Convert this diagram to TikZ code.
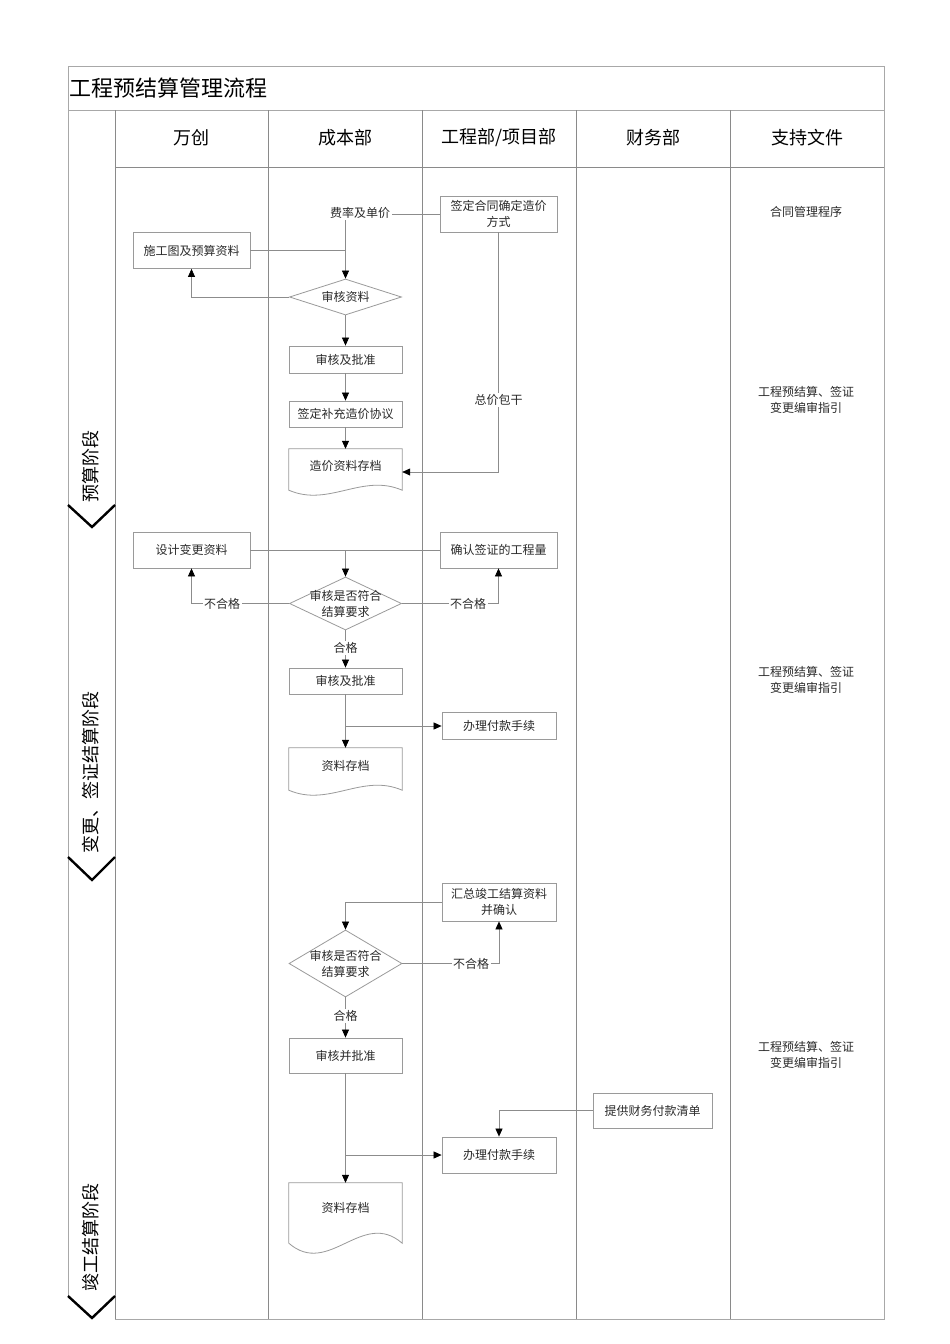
\documentclass[tikz,border=0pt]{standalone}
\usepackage{fontspec}
\setmainfont{Noto Sans CJK SC}
\usetikzlibrary{arrows.meta,shapes.geometric,calc}
\definecolor{lncol}{HTML}{8C8C8C}
\definecolor{boxcol}{HTML}{9A9A9A}
\definecolor{colcol}{HTML}{8A8A8A}
\definecolor{framecol}{HTML}{A8A8A8}
\definecolor{txtcol}{HTML}{2A2A2A}
\newcommand{\ntext}{\fontsize{12pt}{16pt}\selectfont}
\newcommand{\htext}{\fontsize{18pt}{22pt}\selectfont}
\newcommand{\ttext}{\fontsize{22pt}{26pt}\selectfont}
\newcommand{\ptext}{\fontsize{18pt}{22pt}\selectfont}
\newcommand{\stext}{\fontsize{12pt}{16pt}\selectfont}
\tikzset{
 colline/.style={draw=colcol, line width=0.8pt},
 outerline/.style={draw=framecol, line width=1pt},
 ln/.style={draw=lncol, line width=0.7pt},
 arr/.style={ln, -{Triangle[length=8pt,width=7pt,color=black]}},
 box/.style={rectangle, draw=boxcol, line width=0.8pt, minimum width=113pt, minimum height=27pt, inner sep=0pt, align=center, font=\ntext, text=txtcol},
 dia/.style={diamond, draw=boxcol, line width=0.8pt, inner sep=0pt, minimum width=112pt},
 dtext/.style={align=center, font=\ntext, text=txtcol, inner sep=0pt},
 doc/.style={rectangle, minimum width=113pt, inner sep=0pt, font=\ntext, text=txtcol, text height=9pt},
 docline/.style={draw=boxcol, line width=0.8pt},
 lbl/.style={font=\ntext, text=txtcol, inner sep=1.5pt, fill=white},
 hdr/.style={font=\htext, text=black},
 phase/.style={font=\ptext, text=black, rotate=90},
 chev/.style={draw=black, line width=2.4pt, line join=miter},
 sup/.style={font=\stext, text=txtcol, align=center},
}
\begin{document}
\begin{tikzpicture}[x=1pt,y=-1pt]
\useasboundingbox (0,0) rectangle (950,1344);
\fill[white] (0,0) rectangle (950,1344);
% frame and grid
\draw[outerline] (68,1296) -- (68,66) -- (884,66) -- (884,1319) -- (115,1319);
\draw[outerline] (68,110) -- (884,110);
\draw[colline] (115,167) -- (884,167);
\foreach \x in {115,268,422,576,730} \draw[colline] (\x,110) -- (\x,1319);
% title and headers
\node[font=\ttext, anchor=west, inner sep=0pt] (title) at (69,88) {工程预结算管理流程};
\node[hdr] (h1) at (191.5,138) {万创};
\node[hdr] (h2) at (345,138) {成本部};
\node[hdr] (h3) at (499,138) {工程部/项目部};
\node[hdr] (h4) at (653,138) {财务部};
\node[hdr] (h5) at (807,138) {支持文件};
% phases
\node[phase] (p1) at (91,466) {预算阶段};
\node[phase] (p2) at (91,772) {变更、签证结算阶段};
\node[phase] (p3) at (91,1237) {竣工结算阶段};
\draw[chev] (68,505) -- (92,527) -- (115,505);
\draw[chev] (68,857) -- (92,880) -- (115,857);
\draw[chev] (68,1296) -- (92,1318) -- (115,1296);
% support documents
\node[sup] (s1) at (806,212) {合同管理程序};
\node[sup] (s2) at (806,400) {工程预结算、签证\\变更编审指引};
\node[sup] (s3) at (806,680) {工程预结算、签证\\变更编审指引};
\node[sup] (s4) at (806,1055) {工程预结算、签证\\变更编审指引};
% ---------- section 1
\node[box, minimum width=117pt, minimum height=36pt] (sg) at (191.5,250.5) {施工图及预算资料};
\node[box, minimum width=117pt, minimum height=36pt] (ht) at (498.5,214) {签定合同确定造价\\方式};
\node[lbl, fill=none] (fee) at (360,213) {费率及单价};
\node[dia, minimum height=36pt] (dia1) at (345.5,297) {};
\node[dtext] (dia1t) at (dia1) {审核资料};
\node[box] (sh1) at (345.5,359.5) {审核及批准};
\node[box, minimum height=26pt] (bc) at (345.5,414) {签定补充造价协议};
\node[doc, minimum height=46pt, text depth=12pt] (doc1) at (345.5,472) {造价资料存档};
\draw[docline] (doc1.north west) -- (doc1.north east) -- ($(doc1.south east)+(0,-5)$) .. controls ($(doc1.south east)+(-40,-22.3)$) and ($(doc1.south west)+(40,12.3)$) .. ($(doc1.south west)+(0,-5)$) -- cycle;
\draw[ln] (ht.west) -- (ht.west -| fee.east);
\draw[arr] (fee.south -| dia1.north) -- (dia1.north);
\draw[ln] (sg.east) -- (sg.east -| dia1.north);
\draw[arr] (dia1.west) -| (sg.south);
\draw[arr] (dia1.south) -- (sh1.north);
\draw[arr] (sh1.south) -- (bc.north);
\draw[arr] (bc.south) -- (doc1.north);
\draw[arr] (ht.south) |- (doc1.east);
\node[lbl] (zj) at (498.5,400) {总价包干};
% ---------- section 2
\node[box, minimum width=117pt, minimum height=36pt] (sj) at (191.5,550) {设计变更资料};
\node[box, minimum width=117pt, minimum height=36pt] (qr) at (498.5,550) {确认签证的工程量};
\node[dia, minimum height=53pt] (dia2) at (345.5,603.5) {};
\node[dtext] (dia2t) at (dia2) {审核是否符合\\结算要求};
\node[box, minimum height=26pt] (sh2) at (345.5,681) {审核及批准};
\node[box, minimum width=114pt] (pay1) at (499,726) {办理付款手续};
\node[doc, minimum height=47pt, text depth=12pt] (doc2) at (345.5,771.5) {资料存档};
\draw[docline] (doc2.north west) -- (doc2.north east) -- ($(doc2.south east)+(0,-5)$) .. controls ($(doc2.south east)+(-40,-22.3)$) and ($(doc2.south west)+(40,12.3)$) .. ($(doc2.south west)+(0,-5)$) -- cycle;
\draw[ln] (sj.east) -- (qr.west);
\draw[arr] (sj.east -| dia2.north) -- (dia2.north);
\draw[arr] (dia2.west) -| (sj.south);
\draw[arr] (dia2.east) -| (qr.south);
\draw[arr] (dia2.south) -- (sh2.north);
\draw[arr] (sh2.south) -- (doc2.north);
\draw[arr] (sh2.south |- pay1.west) -- (pay1.west);
\node[lbl] (bhg1) at (222,603.5) {不合格};
\node[lbl] (bhg2) at (468,603.5) {不合格};
\node[lbl] (hg1) at (345.5,648) {合格};
% ---------- section 3
\node[box, minimum width=114pt, minimum height=38pt] (hz) at (499,902) {汇总竣工结算资料\\并确认};
\node[dia, minimum width=113pt, minimum height=67pt] (dia3) at (345.5,963.5) {};
\node[dtext] (dia3t) at (dia3) {审核是否符合\\结算要求};
\node[box, minimum height=35pt] (sh3) at (345.5,1055.5) {审核并批准};
\node[box, minimum width=119pt, minimum height=35pt] (tg) at (652.5,1110.5) {提供财务付款清单};
\node[box, minimum width=114pt, minimum height=36pt] (pay2) at (499,1155) {办理付款手续};
\node[doc, minimum height=70pt, text depth=20pt] (doc3) at (345.5,1218) {资料存档};
\draw[docline] (doc3.north west) -- (doc3.north east) -- ($(doc3.south east)+(0,-10)$) .. controls ($(doc3.south east)+(-40,-44.6)$) and ($(doc3.south west)+(40,24.6)$) .. ($(doc3.south west)+(0,-10)$) -- cycle;
\draw[arr] (hz.west) -| (dia3.north);
\draw[arr] (dia3.east) -| (hz.south);
\draw[arr] (dia3.south) -- (sh3.north);
\draw[arr] (sh3.south) -- (doc3.north);
\draw[arr] (sh3.south |- pay2.west) -- (pay2.west);
\draw[arr] (tg.west) -| (pay2.north);
\node[lbl] (bhg3) at (471,963.5) {不合格};
\node[lbl] (hg2) at (345.5,1016) {合格};
\end{tikzpicture}
\end{document}
